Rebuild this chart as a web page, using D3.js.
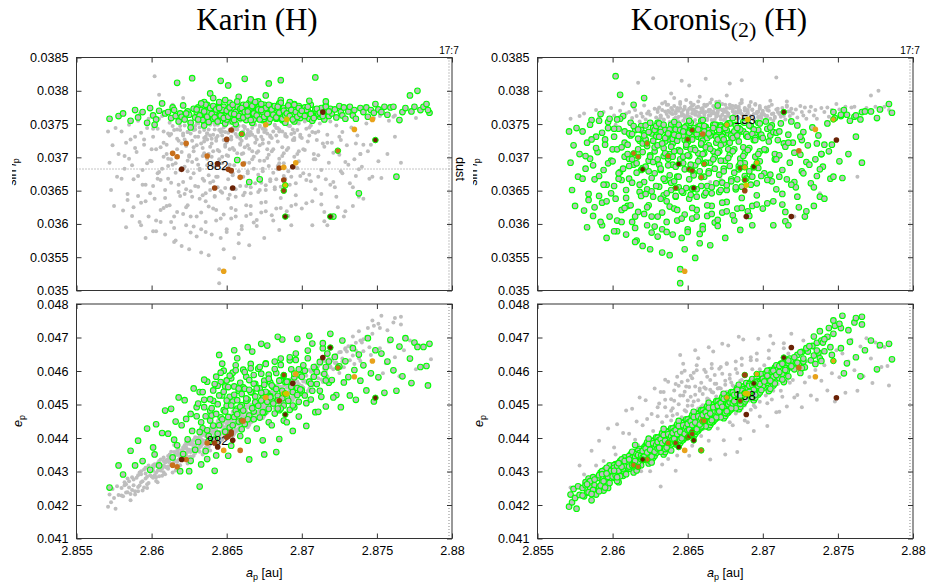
<!DOCTYPE html>
<html>
<head>
<meta charset="utf-8">
<script src="https://cdn.jsdelivr.net/npm/d3@7/dist/d3.min.js"></script>
<style>
  body { margin: 0; background: #fff; }
  svg  { display: block; }
</style>
</head>
<body>
<div id="chart"></div>
<script>
// ############################################################################
// Karin (H) / Koronis(2) (H)  --  proper elements a_p vs sin i_p and e_p
// ############################################################################

// ----------------------------------------------------------------------------
// Data
// ----------------------------------------------------------------------------

const columnTitles = ['Karin', 'Koronis']
const aTicks   = [2.855, 2.86, 2.865, 2.87, 2.875, 2.88]
const sinTicks = [0.035, 0.0355, 0.036, 0.0365, 0.037, 0.0375, 0.038, 0.0385]
const eccTicks = [0.041, 0.042, 0.043, 0.044, 0.045, 0.046, 0.047, 0.048]
const resonance17_7 = 2.8798
const dustSinI = 0.036825

// Karin family members: [a_p, e_p, sin i_p]
const karinMembers = [
  [2.8572,.04252,.03758],[2.8578,.04318,.03762],
  [2.8581,.04291,.03766],[2.8586,.04362,.03755],[2.8589,.04318,.03771],
  [2.8591,.04392,.03760],[2.8594,.04331,.03768],[2.8597,.04428,.03752],[2.8599,.04305,.03774],
  [2.8601,.04372,.03763],[2.8603,.04441,.03757],[2.8605,.04318,.03770],[2.8607,.04415,.03781],[2.8609,.04482,.03766],[2.8602,.04351,.03749],
  [2.8611,.04413,.03768],[2.8613,.04487,.03759],[2.8614,.04342,.03775],[2.8616,.04449,.03762],[2.8617,.04378,.03812],[2.8618,.04521,.03754],[2.8619,.04301,.03766],[2.8615,.04395,.03771],
  [2.8620,.04438,.03761],[2.8621,.04352,.03778],[2.8622,.04513,.03757],[2.8624,.04396,.03769],[2.8625,.04301,.03764],[2.8626,.04472,.03752],[2.8627,.04421,.03819],[2.8628,.04548,.03773],[2.8629,.04365,.03760],[2.8623,.04457,.03766],[2.8626,.04332,.03745],
  [2.8630,.04465,.03768],[2.8631,.04388,.03775],[2.8632,.04537,.03760],[2.8633,.04321,.03771],[2.8634,.04429,.03757],[2.8635,.04492,.03783],[2.8636,.04361,.03765],[2.8637,.04568,.03770],[2.8638,.04406,.03753],[2.8639,.04452,.03796],[2.8632,.04255,.03762],[2.8635,.04514,.03748],[2.8637,.04337,.03779],[2.8639,.04481,.03766],
  [2.8640,.04467,.03771],[2.8641,.04542,.03758],[2.8642,.04395,.03766],[2.8643,.04583,.03774],[2.8644,.04501,.03761],[2.8645,.04438,.03780],[2.8646,.04567,.03767],[2.8647,.04622,.03755],[2.8648,.04483,.03773],[2.8649,.04419,.03762],[2.8641,.04511,.03789],[2.8643,.04348,.03759],[2.8644,.04556,.03770],[2.8646,.04462,.03815],[2.8647,.04527,.03764],[2.8648,.04601,.03776],[2.8649,.04554,.03751],[2.8642,.04302,.03768],
  [2.8650,.04496,.03766],[2.8651,.04552,.03773],[2.8652,.04431,.03760],[2.8653,.04578,.03778],[2.8654,.04509,.03754],[2.8655,.04463,.03769],[2.8656,.04617,.03775],[2.8657,.04488,.03762],[2.8658,.04541,.03791],[2.8659,.04406,.03768],[2.8650,.04572,.03757],[2.8652,.04523,.03782],[2.8653,.04377,.03771],[2.8655,.04554,.03764],[2.8656,.04481,.03750],[2.8657,.04638,.03776],[2.8658,.04449,.03767],[2.8659,.04565,.03759],[2.8651,.04347,.03808],[2.8654,.04595,.03772],[2.8657,.04513,.03696],
  [2.8660,.04498,.03771],[2.8661,.04551,.03764],[2.8662,.04442,.03777],[2.8663,.04583,.03758],[2.8664,.04515,.03769],[2.8665,.04467,.03782],[2.8666,.04621,.03766],[2.8667,.04536,.03752],[2.8668,.04479,.03774],[2.8669,.04562,.03761],[2.8660,.04426,.03768],[2.8661,.04604,.03779],[2.8663,.04511,.03756],[2.8664,.04392,.03771],[2.8665,.04573,.03763],[2.8666,.04537,.03787],[2.8667,.04658,.03769],[2.8668,.04456,.03757],[2.8669,.04524,.03775],[2.8662,.04547,.03818],[2.8665,.04336,.03663],[2.8668,.04588,.03766],
  [2.8670,.04503,.03767],[2.8671,.04549,.03775],[2.8672,.04461,.03761],[2.8673,.04592,.03771],[2.8674,.04518,.03756],[2.8675,.04476,.03779],[2.8676,.04623,.03768],[2.8677,.04534,.03762],[2.8678,.04487,.03774],[2.8679,.04566,.03759],[2.8670,.04428,.03770],[2.8671,.04607,.03784],[2.8673,.04512,.03764],[2.8674,.04393,.03772],[2.8675,.04571,.03758],[2.8676,.04538,.03793],[2.8677,.04676,.03766],[2.8678,.04447,.03753],[2.8679,.04525,.03777],[2.8672,.04548,.03667],[2.8675,.04351,.03769],[2.8678,.04589,.03811],
  [2.8680,.04511,.03769],[2.8681,.04552,.03762],[2.8682,.04473,.03775],[2.8683,.04594,.03758],[2.8684,.04526,.03771],[2.8685,.04483,.03781],[2.8686,.04618,.03765],[2.8687,.04541,.03756],[2.8688,.04497,.03773],[2.8689,.04567,.03764],[2.8680,.04438,.03777],[2.8682,.04606,.03768],[2.8684,.04512,.03759],[2.8685,.04397,.03770],[2.8686,.04573,.03786],[2.8687,.04694,.03763],[2.8688,.04452,.03774],[2.8689,.04529,.03752],[2.8683,.04358,.03767],[2.8686,.04488,.03816],
  [2.8690,.04521,.03768],[2.8691,.04568,.03776],[2.8692,.04484,.03761],[2.8693,.04605,.03772],[2.8694,.04537,.03757],[2.8695,.04492,.03780],[2.8696,.04633,.03766],[2.8697,.04549,.03760],[2.8698,.04508,.03773],[2.8699,.04588,.03763],[2.8690,.04447,.03771],[2.8692,.04632,.03783],[2.8694,.04421,.03765],[2.8695,.04581,.03754],[2.8697,.04696,.03769],[2.8698,.04464,.03777],[2.8699,.04535,.03759],
  [2.8700,.04542,.03767],[2.8702,.04601,.03775],[2.8703,.04504,.03762],[2.8704,.04638,.03770],[2.8705,.04568,.03758],[2.8706,.04515,.03779],[2.8707,.04682,.03766],[2.8708,.04583,.03761],[2.8709,.04477,.03772],[2.8701,.04617,.03764],[2.8703,.04436,.03771],[2.8705,.04705,.03785],[2.8707,.04541,.03755],[2.8709,.04606,.03820],
  [2.8710,.04561,.03768],[2.8712,.04627,.03761],[2.8713,.04523,.03774],[2.8714,.04668,.03766],[2.8715,.04591,.03757],[2.8716,.04494,.03778],[2.8717,.04652,.03769],[2.8718,.04565,.03762],[2.8719,.04711,.03773],[2.8711,.04478,.03765],[2.8716,.04612,.03784],
  [2.8720,.04573,.03766],[2.8722,.04642,.03772],[2.8723,.04528,.03760],[2.8725,.04614,.03777],[2.8726,.04492,.03768],[2.8727,.04691,.03763],[2.8728,.04566,.03775],[2.8729,.04629,.03758],[2.8721,.04521,.03611],
  [2.8731,.04582,.03769],[2.8732,.04527,.03776],[2.8734,.04668,.03763],[2.8735,.04603,.03771],[2.8736,.04514,.03758],[2.8738,.04649,.03646],[2.8739,.04571,.03774],
  [2.8741,.04617,.03768],[2.8743,.04542,.03775],[2.8744,.04698,.03761],[2.8746,.04593,.03771],[2.8748,.04509,.03767],[2.8749,.04662,.03780],
  [2.8751,.04581,.03772],[2.8753,.04652,.03768],[2.8755,.04535,.03776],[2.8757,.04628,.03764],[2.8759,.04693,.03775],
  [2.8761,.04602,.03776],[2.8763,.04541,.03671],[2.8765,.04673,.03756],[2.8767,.04584,.03768],[2.8769,.04698,.03774],
  [2.8772,.04637,.03793],[2.8773,.04564,.03769],[2.8775,.04685,.03776],[2.8777,.04672,.03800],[2.8779,.04612,.03771],
  [2.8781,.04672,.03776],[2.8783,.04615,.03780],[2.8785,.04681,.03767],[2.8784,.04557,.03771],
  [2.8630,.04492,.03772],[2.8632,.04418,.03763],[2.8634,.04537,.03756],[2.8636,.04465,.03779],[2.8638,.04391,.03768],[2.8631,.04503,.03757],[2.8633,.04447,.03781],[2.8635,.04574,.03769],[2.8637,.04423,.03761],[2.8639,.04516,.03774],
  [2.8640,.04489,.03765],[2.8641,.04437,.03777],[2.8642,.04561,.03760],[2.8643,.04472,.03772],[2.8644,.04413,.03754],[2.8645,.04527,.03783],[2.8646,.04595,.03763],[2.8647,.04456,.03771],[2.8648,.04538,.03759],[2.8649,.04479,.03786],[2.8645,.04648,.03774],
  [2.8650,.04512,.03770],[2.8651,.04463,.03761],[2.8652,.04586,.03775],[2.8653,.04497,.03766],[2.8654,.04438,.03779],[2.8655,.04529,.03756],[2.8656,.04602,.03768],[2.8657,.04471,.03784],[2.8658,.04548,.03762],[2.8659,.04493,.03773],[2.8655,.04662,.03765],
  [2.8660,.04531,.03774],[2.8661,.04482,.03760],[2.8662,.04597,.03768],[2.8663,.04518,.03779],[2.8664,.04456,.03763],[2.8665,.04544,.03771],[2.8666,.04608,.03756],[2.8667,.04489,.03777],[2.8668,.04562,.03766],[2.8669,.04507,.03783],[2.8664,.04671,.03769],
  [2.8670,.04548,.03763],[2.8671,.04496,.03772],[2.8672,.04612,.03757],[2.8673,.04535,.03780],[2.8674,.04477,.03768],[2.8675,.04559,.03761],[2.8676,.04621,.03774],[2.8677,.04508,.03765],[2.8678,.04577,.03779],[2.8679,.04522,.03758],[2.8673,.04681,.03771],
  [2.8680,.04557,.03772],[2.8681,.04503,.03764],[2.8682,.04628,.03777],[2.8683,.04546,.03760],[2.8684,.04488,.03773],[2.8685,.04571,.03767],[2.8686,.04637,.03782],[2.8687,.04519,.03758],[2.8688,.04586,.03770],[2.8689,.04532,.03763],[2.8684,.04702,.03776],
  [2.8690,.04568,.03766],[2.8691,.04511,.03778],[2.8692,.04641,.03762],[2.8693,.04553,.03771],[2.8694,.04497,.03757],[2.8695,.04592,.03779],[2.8696,.04652,.03768],[2.8697,.04528,.03761],[2.8698,.04605,.03774],[2.8699,.04545,.03765],
  [2.8700,.04583,.03770],[2.8702,.04527,.03762],[2.8704,.04661,.03776],[2.8706,.04562,.03765],[2.8708,.04612,.03759],[2.8710,.04597,.03773],[2.8712,.04541,.03767],[2.8714,.04683,.03762],[2.8716,.04572,.03776],[2.8718,.04628,.03769]
]

// Koronis(2) family members: [a_p, e_p, sin i_p]
const koronis2Members = [
  [2.8571,.04195,.03739],[2.8572,.04231,.03692],[2.8573,.04208,.03651],[2.8574,.04248,.03718],[2.8575,.04221,.03627],[2.8576,.04189,.03744],[2.8577,.04256,.03671],[2.8578,.04230,.03705],
  [2.8580,.04251,.03739],[2.8581,.04226,.03620],[2.8582,.04268,.03683],[2.8583,.04237,.03722],[2.8584,.04279,.03645],[2.8585,.04252,.03698],[2.8586,.04214,.03756],[2.8587,.04283,.03612],[2.8588,.04259,.03667],[2.8589,.04241,.03731],
  [2.8590,.04281,.03708],[2.8591,.04254,.03642],[2.8592,.04297,.03765],[2.8593,.04268,.03598],[2.8594,.04243,.03681],[2.8595,.04306,.03727],[2.8596,.04279,.03659],[2.8597,.04262,.03744],[2.8598,.04318,.03611],[2.8599,.04289,.03695],[2.8593,.04301,.03632],[2.8597,.04251,.03753],
  [2.8600,.04307,.03712],[2.8601,.04281,.03657],[2.8602,.04322,.03822],[2.8603,.04296,.03589],[2.8604,.04268,.03743],[2.8605,.04331,.03678],[2.8606,.04303,.03621],[2.8607,.04287,.03762],[2.8608,.04342,.03701],[2.8609,.04314,.03639],[2.8601,.04319,.03731],[2.8603,.04272,.03605],[2.8605,.04305,.03794],[2.8606,.04336,.03666],[2.8608,.04298,.03722],[2.8609,.04327,.03584],
  [2.8610,.04334,.03719],[2.8611,.04308,.03668],[2.8612,.04351,.03752],[2.8613,.04322,.03603],[2.8614,.04297,.03689],[2.8615,.04358,.03741],[2.8616,.04331,.03575],[2.8617,.04314,.03712],[2.8618,.04367,.03648],[2.8619,.04341,.03747],[2.8610,.04312,.03627],[2.8611,.04346,.03698],[2.8612,.04327,.03733],[2.8613,.04359,.03662],[2.8614,.04338,.03779],[2.8616,.04303,.03691],[2.8617,.04362,.03618],[2.8618,.04335,.03725],[2.8619,.04319,.03681],[2.8615,.04379,.03594],
  [2.8620,.04361,.03721],[2.8621,.04335,.03663],[2.8622,.04378,.03748],[2.8623,.04349,.03598],[2.8624,.04324,.03695],[2.8625,.04386,.03562],[2.8626,.04358,.03736],[2.8627,.04341,.03641],[2.8628,.04394,.03709],[2.8629,.04368,.03742],[2.8620,.04339,.03684],[2.8621,.04372,.03615],[2.8622,.04354,.03727],[2.8623,.04387,.03652],[2.8624,.04366,.03738],[2.8625,.04331,.03703],[2.8626,.04391,.03587],[2.8627,.04362,.03744],[2.8628,.04347,.03676],[2.8629,.04402,.03731],[2.8621,.04356,.03789],[2.8624,.04398,.03628],[2.8626,.04327,.03669],[2.8628,.04375,.03715],
  [2.8630,.04388,.03718],[2.8631,.04362,.03656],[2.8632,.04405,.03745],[2.8633,.04376,.03592],[2.8634,.04351,.03702],[2.8635,.04413,.03741],[2.8636,.04385,.03634],[2.8637,.04368,.03727],[2.8638,.04421,.03673],[2.8639,.04395,.03749],[2.8630,.04366,.03611],[2.8631,.04399,.03689],[2.8632,.04381,.03738],[2.8633,.04414,.03557],[2.8634,.04393,.03714],[2.8635,.04358,.03665],[2.8636,.04418,.03731],[2.8637,.04389,.03698],[2.8638,.04374,.03626],[2.8639,.04429,.03733],[2.8630,.04401,.03752],[2.8632,.04359,.03681],[2.8634,.04427,.03643],[2.8635,.04384,.03724],[2.8636,.04371,.03588],[2.8637,.04408,.03736],[2.8638,.04392,.03705],[2.8639,.04363,.03662],
  [2.8640,.04415,.03721],[2.8641,.04389,.03664],[2.8642,.04432,.03749],[2.8643,.04403,.03605],[2.8644,.04378,.03711],[2.8645,.04441,.03532],[2.8646,.04412,.03738],[2.8647,.04395,.03647],[2.8648,.04448,.03726],[2.8649,.04422,.03738],[2.8640,.04393,.03689],[2.8641,.04426,.03623],[2.8642,.04408,.03742],[2.8643,.04441,.03671],[2.8644,.04419,.03749],[2.8645,.04385,.03697],[2.8646,.04445,.03579],[2.8647,.04416,.03733],[2.8648,.04401,.03682],[2.8649,.04456,.03747],[2.8640,.04428,.03728],[2.8641,.04397,.03709],[2.8642,.04381,.03641],[2.8643,.04423,.03729],[2.8644,.04451,.03655],[2.8645,.04409,.03511],[2.8646,.04392,.03742],[2.8647,.04437,.03701],[2.8648,.04419,.03614],[2.8649,.04405,.03716],
  [2.8650,.04442,.03723],[2.8651,.04416,.03667],[2.8652,.04459,.03752],[2.8653,.04430,.03608],[2.8654,.04405,.03714],[2.8655,.04468,.03743],[2.8656,.04439,.03641],[2.8657,.04422,.03731],[2.8658,.04475,.03679],[2.8659,.04449,.03755],[2.8650,.04420,.03592],[2.8651,.04453,.03702],[2.8652,.04435,.03741],[2.8653,.04468,.03653],[2.8654,.04446,.03739],[2.8655,.04412,.03688],[2.8656,.04472,.03621],[2.8657,.04443,.03746],[2.8658,.04428,.03697],[2.8659,.04483,.03728],[2.8650,.04455,.03724],[2.8651,.04424,.03638],[2.8652,.04408,.03712],[2.8653,.04450,.03731],[2.8654,.04478,.03676],[2.8655,.04436,.03549],[2.8656,.04419,.03735],[2.8657,.04464,.03706],[2.8658,.04446,.03585],[2.8659,.04432,.03719],
  [2.8660,.04469,.03725],[2.8661,.04443,.03671],[2.8662,.04486,.03746],[2.8663,.04457,.03612],[2.8664,.04432,.03718],[2.8665,.04495,.03736],[2.8666,.04466,.03646],[2.8667,.04449,.03734],[2.8668,.04502,.03683],[2.8669,.04476,.03749],[2.8660,.04447,.03597],[2.8661,.04480,.03706],[2.8662,.04462,.03744],[2.8663,.04495,.03657],[2.8664,.04473,.03741],[2.8665,.04439,.03692],[2.8666,.04499,.03627],[2.8667,.04470,.03749],[2.8668,.04455,.03701],[2.8669,.04510,.03731],[2.8660,.04482,.03756],[2.8661,.04451,.03643],[2.8662,.04435,.03715],[2.8663,.04477,.03733],[2.8664,.04505,.03679],[2.8665,.04463,.03568],[2.8666,.04446,.03738],[2.8667,.04491,.03709],[2.8668,.04473,.03602],[2.8669,.04459,.03722],
  [2.8670,.04496,.03727],[2.8671,.04470,.03674],[2.8672,.04513,.03748],[2.8673,.04484,.03617],[2.8674,.04459,.03721],[2.8675,.04522,.03738],[2.8676,.04493,.03651],[2.8677,.04476,.03736],[2.8678,.04529,.03687],[2.8679,.04503,.03731],[2.8670,.04474,.03606],[2.8671,.04507,.03709],[2.8672,.04489,.03746],[2.8673,.04522,.03662],[2.8674,.04500,.03743],[2.8675,.04466,.03695],[2.8676,.04526,.03633],[2.8677,.04497,.03751],[2.8678,.04482,.03704],[2.8679,.04537,.03733],[2.8670,.04509,.03778],[2.8671,.04478,.03648],[2.8672,.04462,.03718],[2.8674,.04532,.03683],[2.8675,.04490,.03579],[2.8676,.04473,.03741],[2.8677,.04518,.03712],[2.8679,.04486,.03667],
  [2.8680,.04523,.03729],[2.8681,.04497,.03677],[2.8682,.04540,.03749],[2.8683,.04511,.03623],[2.8684,.04486,.03724],[2.8685,.04549,.03739],[2.8686,.04520,.03656],[2.8687,.04503,.03739],[2.8688,.04556,.03691],[2.8689,.04530,.03732],[2.8680,.04501,.03613],[2.8681,.04534,.03712],[2.8682,.04516,.03748],[2.8683,.04549,.03667],[2.8684,.04527,.03744],[2.8685,.04493,.03698],[2.8686,.04553,.03639],[2.8687,.04524,.03753],[2.8688,.04509,.03706],[2.8689,.04564,.03735],[2.8680,.04536,.03759],[2.8682,.04489,.03652],[2.8684,.04559,.03687],[2.8685,.04517,.03591],[2.8687,.04545,.03715],[2.8688,.04532,.03672],
  [2.8690,.04550,.03731],[2.8691,.04524,.03679],[2.8692,.04567,.03747],[2.8693,.04538,.03627],[2.8694,.04513,.03726],[2.8695,.04576,.03737],[2.8696,.04547,.03661],[2.8697,.04530,.03741],[2.8698,.04583,.03694],[2.8699,.04557,.03731],[2.8690,.04528,.03619],[2.8691,.04561,.03714],[2.8692,.04543,.03747],[2.8693,.04576,.03671],[2.8694,.04554,.03742],[2.8695,.04520,.03701],[2.8696,.04580,.03643],[2.8697,.04551,.03752],[2.8698,.04536,.03709],[2.8699,.04591,.03734],[2.8693,.04521,.03598],[2.8697,.04569,.03684],
  [2.8700,.04577,.03729],[2.8701,.04551,.03676],[2.8702,.04594,.03754],[2.8703,.04565,.03631],[2.8704,.04540,.03724],[2.8705,.04603,.03733],[2.8706,.04574,.03664],[2.8707,.04557,.03738],[2.8708,.04610,.03697],[2.8709,.04584,.03737],[2.8700,.04555,.03623],[2.8702,.04571,.03711],[2.8703,.04601,.03743],[2.8705,.04547,.03674],[2.8706,.04598,.03748],[2.8707,.04582,.03598],[2.8708,.04563,.03705],[2.8709,.04617,.03652],
  [2.8710,.04604,.03726],[2.8711,.04578,.03671],[2.8712,.04621,.03751],[2.8713,.04592,.03629],[2.8714,.04567,.03721],[2.8715,.04630,.03604],[2.8716,.04601,.03667],[2.8717,.04584,.03734],[2.8718,.04637,.03692],[2.8719,.04611,.03754],[2.8711,.04615,.03703],[2.8713,.04575,.03645],[2.8715,.04608,.03716],[2.8717,.04624,.03598],
  [2.8720,.04631,.03722],[2.8721,.04605,.03663],[2.8723,.04648,.03748],[2.8724,.04619,.03625],[2.8725,.04594,.03704],[2.8726,.04657,.03679],[2.8727,.04628,.03738],[2.8728,.04611,.03611],[2.8729,.04664,.03693],[2.8722,.04624,.03655],[2.8726,.04609,.03726],
  [2.8730,.04658,.03718],[2.8732,.04632,.03661],[2.8733,.04675,.03745],[2.8734,.04646,.03627],[2.8735,.04621,.03697],[2.8736,.04684,.03672],[2.8737,.04655,.03733],[2.8738,.04638,.03641],[2.8739,.04691,.03705],
  [2.8740,.04685,.03686],[2.8741,.04659,.03719],[2.8743,.04702,.03751],[2.8745,.04671,.03668],[2.8746,.04648,.03719],[2.8747,.04711,.03768],[2.8739,.04630,.03705],[2.8748,.04735,.03759],
  [2.8752,.04668,.03762],[2.8756,.04623,.03764],[2.8758,.04687,.03755],[2.8754,.04593,.03771],[2.8752,.04728,.03764],
  [2.8761,.04745,.03761],[2.8762,.04641,.03763],[2.8765,.04584,.03757],[2.8766,.04762,.03768],[2.8768,.04662,.03769],
  [2.8772,.04691,.03769],[2.8776,.04605,.03759],[2.8778,.04677,.03772],
  [2.8784,.04681,.03780],[2.8786,.04635,.03767],
  [2.8580,.04228,.03668],[2.8582,.04259,.03702],[2.8584,.04238,.03636],[2.8585,.04271,.03749],[2.8587,.04245,.03688],[2.8588,.04276,.03625],[2.8589,.04231,.03714],[2.8591,.04289,.03672],[2.8592,.04258,.03603],[2.8593,.04292,.03737],
  [2.8594,.04271,.03659],[2.8595,.04252,.03719],[2.8596,.04311,.03634],[2.8597,.04284,.03691],[2.8598,.04266,.03758],[2.8599,.04302,.03646],[2.8583,.04262,.03595],[2.8586,.04233,.03727],[2.8591,.04241,.03755],[2.8596,.04294,.03579],
  [2.8600,.04285,.03694],[2.8601,.04311,.03743],[2.8602,.04289,.03638],[2.8603,.04317,.03712],[2.8604,.04302,.03668],[2.8605,.04286,.03758],[2.8606,.04321,.03603],[2.8607,.04309,.03683],[2.8608,.04318,.03739],[2.8609,.04292,.03651],
  [2.8610,.04329,.03705],[2.8611,.04315,.03736],[2.8612,.04337,.03628],[2.8613,.04341,.03697],[2.8614,.04316,.03747],[2.8615,.04344,.03611],[2.8616,.04352,.03677],[2.8617,.04328,.03728],[2.8618,.04355,.03659],[2.8619,.04337,.03741],
  [2.8601,.04302,.03589],[2.8603,.04283,.03757],[2.8606,.04314,.03715],[2.8608,.04331,.03624],[2.8611,.04336,.03687],[2.8613,.04319,.03735],[2.8615,.04331,.03573],[2.8617,.04349,.03742],[2.8619,.04348,.03642],[2.8604,.04325,.03676],
  [2.8620,.04342,.03708],[2.8621,.04367,.03736],[2.8622,.04341,.03645],[2.8623,.04372,.03717],[2.8624,.04358,.03679],[2.8625,.04343,.03752],[2.8626,.04381,.03611],[2.8627,.04366,.03693],[2.8628,.04374,.03741],[2.8629,.04355,.03657],
  [2.8620,.04361,.03567],[2.8621,.04344,.03733],[2.8622,.04369,.03686],[2.8623,.04357,.03625],[2.8624,.04382,.03738],[2.8625,.04365,.03701],[2.8626,.04345,.03649],[2.8627,.04384,.03725],[2.8628,.04359,.03596],[2.8629,.04379,.03747],
  [2.8630,.04369,.03697],[2.8631,.04394,.03751],[2.8632,.04371,.03638],[2.8633,.04397,.03721],[2.8634,.04382,.03668],[2.8635,.04367,.03729],[2.8636,.04406,.03603],[2.8637,.04393,.03688],[2.8638,.04399,.03742],[2.8639,.04381,.03651],
  [2.8630,.04388,.03581],[2.8631,.04371,.03731],[2.8632,.04396,.03683],[2.8633,.04385,.03617],[2.8634,.04409,.03749],[2.8635,.04392,.03706],[2.8636,.04372,.03646],[2.8637,.04411,.03736],[2.8638,.04386,.03553],[2.8639,.04405,.03716],
  [2.8640,.04396,.03701],[2.8641,.04421,.03753],[2.8642,.04398,.03642],[2.8643,.04424,.03725],[2.8644,.04409,.03671],[2.8645,.04394,.03741],[2.8646,.04433,.03608],[2.8647,.04420,.03691],[2.8648,.04426,.03745],[2.8649,.04408,.03654],
  [2.8640,.04415,.03584],[2.8641,.04398,.03734],[2.8642,.04423,.03686],[2.8643,.04412,.03621],[2.8644,.04436,.03732],[2.8645,.04419,.03709],[2.8646,.04399,.03649],[2.8647,.04438,.03739],[2.8648,.04413,.03562],[2.8649,.04432,.03719],
  [2.8650,.04423,.03703],[2.8651,.04448,.03755],[2.8652,.04425,.03644],[2.8653,.04451,.03727],[2.8654,.04436,.03673],[2.8655,.04421,.03742],[2.8656,.04460,.03611],[2.8657,.04447,.03694],[2.8658,.04453,.03747],[2.8659,.04435,.03657],
  [2.8650,.04442,.03588],[2.8651,.04425,.03737],[2.8652,.04450,.03689],[2.8653,.04439,.03624],[2.8654,.04463,.03744],[2.8655,.04446,.03711],[2.8656,.04426,.03652],[2.8657,.04465,.03742],[2.8658,.04440,.03571],[2.8659,.04459,.03721],
  [2.8660,.04450,.03705],[2.8661,.04475,.03747],[2.8662,.04452,.03647],[2.8663,.04478,.03729],[2.8664,.04463,.03676],[2.8665,.04448,.03733],[2.8666,.04487,.03615],[2.8667,.04474,.03697],[2.8668,.04480,.03749],[2.8669,.04462,.03661],
  [2.8660,.04469,.03592],[2.8661,.04452,.03739],[2.8662,.04477,.03692],[2.8663,.04466,.03628],[2.8664,.04490,.03736],[2.8665,.04473,.03713],[2.8666,.04453,.03655],[2.8667,.04492,.03744],
  [2.8670,.04477,.03707],[2.8671,.04502,.03738],[2.8672,.04479,.03651],[2.8673,.04505,.03731],[2.8674,.04490,.03679],[2.8675,.04475,.03744],[2.8676,.04514,.03619],[2.8677,.04501,.03699],[2.8678,.04507,.03751],[2.8679,.04489,.03664],
  [2.8670,.04496,.03597],[2.8671,.04479,.03741],[2.8672,.04504,.03695],[2.8673,.04493,.03632],[2.8674,.04517,.03727],[2.8676,.04480,.03658],[2.8678,.04519,.03722],
  [2.8680,.04504,.03709],[2.8681,.04529,.03739],[2.8682,.04506,.03655],[2.8683,.04532,.03733],[2.8684,.04517,.03682],[2.8685,.04502,.03742],[2.8686,.04541,.03624],[2.8687,.04528,.03702],[2.8688,.04534,.03752],[2.8689,.04516,.03668],
  [2.8681,.04510,.03605],[2.8683,.04544,.03744],[2.8685,.04526,.03691],
  [2.8690,.04531,.03711],[2.8691,.04556,.03748],[2.8692,.04533,.03659],[2.8693,.04559,.03735],[2.8694,.04544,.03685],[2.8695,.04529,.03729],[2.8696,.04568,.03629],[2.8697,.04555,.03705],[2.8698,.04561,.03751],[2.8699,.04543,.03672],
  [2.8691,.04537,.03612],[2.8695,.04566,.03726],
  [2.8701,.04569,.03712],[2.8703,.04586,.03666],[2.8705,.04571,.03745],[2.8707,.04601,.03634],[2.8709,.04588,.03697],[2.8711,.04597,.03739],[2.8713,.04622,.03681],[2.8715,.04603,.03618],[2.8717,.04631,.03722],[2.8719,.04614,.03659],
  [2.8721,.04641,.03707],[2.8723,.04625,.03641],[2.8725,.04656,.03731],[2.8727,.04637,.03676],[2.8729,.04668,.03619],
  [2.8731,.04674,.03689],[2.8734,.04703,.03655],[2.8736,.04661,.03721],[2.8738,.04719,.03682],[2.8741,.04695,.03638],[2.8744,.04728,.03709],
  [2.8747,.04751,.03671],[2.8751,.04741,.03694],[2.8753,.04765,.03669],[2.8757,.04722,.03705],[2.8762,.04758,.03731],[2.8766,.04739,.03692]
]

// Highlighted asteroids: [a_p, e_p, sin i_p, colour class, family]
const highlighted = [
  [2.8676,.04521,.03749,1,'C'],[2.8653,.04418,.03741,3,'C'],[2.8650,.04402,.03727,3,'C'],
  [2.8660,.04452,.03735,2,'K'],[2.8623,.04336,.03721,2,'C'],[2.8614,.04319,.03706,2,'C'],
  [2.8617,.04314,.03701,2,'C'],[2.8637,.04385,.03702,2,'C'],[2.8620,.04336,.03682,4,'C'],
  [2.8651,.04405,.03682,3,'C'],[2.8653,.04412,.03680,3,'C'],[2.8661,.04451,.03690,2,'C'],
  [2.8659,.04363,.03670,2,'C'],[2.8642,.04385,.03654,3,'C'],[2.8654,.04393,.03654,4,'C'],
  [2.8685,.04511,.03684,3,'C'],[2.8688,.04533,.03685,1,'C'],[2.8694,.04563,.03686,4,'C'],
  [2.8696,.04591,.03692,1,'C'],[2.8688,.04588,.03666,3,'C'],[2.8689,.04533,.03658,0,'K'],
  [2.8688,.04588,.03650,3,'K'],[2.8689,.04470,.03611,4,'K'],[2.8719,.04670,.03611,4,'K'],
  [2.8724,.04610,.03710,2,'K'],[2.8735,.04583,.03742,1,''],[2.8749,.04520,.03726,4,'K'],
  [2.8648,.04363,.03529,1,''],[2.8747,.04630,.03757,1,'C'],[2.8714,.04640,.03768,4,'C'],
  [2.8644,.04373,.03690,4,'C'],[2.8690,.04532,.03757,0,'']
]
const highlightColors = ['#d8c000', '#e8a21a', '#c8701c', '#9a4410', '#6a2206']

// Object labels: [text, a_p, e_p, sin i_p]
const objectLabels = [
  ['882', 2.8644, .04392, .03688],
  ['158', 2.8688, .04528, .03757]
]


// ############################################################################
// Chart
// ############################################################################

class FamilyChart
{
  constructor(parentId)
  {
    this._width  = 929
    this._height = 583
    this._font   = '"Liberation Sans", Arial, Helvetica, sans-serif'
    this._serif  = '"Liberation Serif", "Times New Roman", serif'

    // Plot frames (left edge of each column, common width, row extents)
    this._colLeft   = [76.5, 537.5]
    this._plotWidth = 375.5
    this._rows = {
      sin : { top: 57.5, bottom: 290.5, domain: [0.035, 0.0385], ticks: sinTicks, col: 2 },
      ecc : { top: 304,  bottom: 538.5, domain: [0.041, 0.048],  ticks: eccTicks, col: 1 }
    }

    this._color = d3.scaleOrdinal().domain([0, 1, 2, 3, 4]).range(highlightColors)

    this._setupContainer(parentId)
    for (let c = 0; c < 2; c++)
    {
      this._drawColumnHeader(c)
      this._drawPanel(c, 'sin')
      this._drawPanel(c, 'ecc')
    }
  }

  // ==========================================================================
  // Setup svg canvas
  // ==========================================================================

  _setupContainer(parentId)
  {
    this._svg = d3.select('#' + parentId)
      .append('svg')
      .attr('width',  this._width)
      .attr('height', this._height)
      .style('font-family', this._font)
      .style('background-color', '#fff')

    let defs = this._svg.append('defs')
    // y labels are cut at the left border of each original sub-picture
    defs.append('clipPath').attr('id', 'clip-col-0')
      .append('rect').attr('x', 12).attr('y', 0).attr('width', 455).attr('height', this._height)
    defs.append('clipPath').attr('id', 'clip-col-1')
      .append('rect').attr('x', 473).attr('y', 0).attr('width', 456).attr('height', this._height)
  }

  // ==========================================================================
  // Title, x label, y labels
  // ==========================================================================

  _drawColumnHeader(c)
  {
    let x0 = this._colLeft[c]
    let off = x0 - this._colLeft[0]

    // Title
    let title = this._svg.append('text')
      .attr('x', c == 0 ? 257 : 719)
      .attr('y', 30)
      .attr('text-anchor', 'middle')
      .style('font-family', this._serif)
      .style('font-size', '31px')
    title.append('tspan').text(columnTitles[c])
    if (c == 1)
    {
      title.append('tspan').attr('dy', 7).style('font-size', '22px').text('(2)')
      title.append('tspan').attr('dy', -7).text(' (H)')
    }
    else
      title.append('tspan').text(' (H)')

    // x label
    let xl = this._svg.append('text')
      .attr('x', x0 + this._plotWidth / 2)
      .attr('y', 577)
      .attr('text-anchor', 'middle')
      .style('font-size', '12.6px')
    xl.append('tspan').style('font-style', 'italic').text('a')
    xl.append('tspan').attr('dy', 3).style('font-size', '9px').text('p')
    xl.append('tspan').attr('dy', -3).text(' [au]')

    // y labels (rotated)
    let clip = this._svg.append('g').attr('clip-path', 'url(#clip-col-' + c + ')')
    let sl = clip.append('text')
      .attr('transform', 'translate(' + (16 + off) + ',172) rotate(-90)')
      .attr('text-anchor', 'middle')
      .style('font-size', '12.6px')
    sl.append('tspan').text('sin ')
    sl.append('tspan').style('font-style', 'italic').text('i')
    sl.append('tspan').attr('dy', 3).style('font-size', '9px').text('p')

    let el = clip.append('text')
      .attr('transform', 'translate(' + (22 + off) + ',421) rotate(-90)')
      .attr('text-anchor', 'middle')
      .style('font-size', '12.6px')
    el.append('tspan').style('font-style', 'italic').text('e')
    el.append('tspan').attr('dy', 3).style('font-size', '9px').text('p')
  }

  // ==========================================================================
  // One scatter panel
  // ==========================================================================

  _drawPanel(c, rowName)
  {
    let row = this._rows[rowName]
    let x0 = this._colLeft[c]
    let x1 = x0 + this._plotWidth
    let greenFam = c == 0 ? 'K' : 'C'
    let greenSet = c == 0 ? karinMembers : koronis2Members
    let graySet  = c == 0 ? koronis2Members : karinMembers
    let col = row.col

    let x = d3.scaleLinear().domain([2.855, 2.88]).range([x0, x1])
    let y = d3.scaleLinear().domain(row.domain).range([row.bottom, row.top])

    let g = this._svg.append('g')

    // Reference lines (dotted)
    g.append('line')
      .attr('x1', x(resonance17_7)).attr('x2', x(resonance17_7))
      .attr('y1', row.top).attr('y2', row.bottom)
      .attr('stroke', '#888').attr('stroke-width', 1).attr('stroke-dasharray', '1,2')

    if (rowName == 'sin')
    {
      g.append('text')
        .attr('x', x(resonance17_7)).attr('y', row.top - 4)
        .attr('text-anchor', 'middle')
        .style('font-size', '10px')
        .text('17:7')
    }

    if (rowName == 'sin' && c == 0)
    {
      g.append('line')
        .attr('x1', x0).attr('x2', x1)
        .attr('y1', y(dustSinI)).attr('y2', y(dustSinI))
        .attr('stroke', '#888').attr('stroke-width', 1).attr('stroke-dasharray', '1,2')
      g.append('text')
        .attr('transform', 'translate(' + (x1 + 4) + ',' + y(dustSinI) + ') rotate(90)')
        .attr('text-anchor', 'middle')
        .style('font-size', '12.6px')
        .text('dust')
    }

    // Background family (gray)
    g.append('g').selectAll('circle')
      .data(graySet)
      .join('circle')
      .attr('cx', d => x(d[0]))
      .attr('cy', d => y(d[col]))
      .attr('r', 2)
      .attr('fill', '#bebebe')

    // Selected family (green rings)
    g.append('g').selectAll('circle')
      .data(greenSet)
      .join('circle')
      .attr('cx', d => x(d[0]))
      .attr('cy', d => y(d[col]))
      .attr('r', 2.8)
      .attr('fill', '#bebebe')
      .attr('stroke', '#00ff00')
      .attr('stroke-width', 1.1)

    // Object label
    let lab = objectLabels[c]
    g.append('text')
      .attr('x', x(lab[1]))
      .attr('y', y(lab[rowName == 'sin' ? 3 : 2]))
      .attr('dy', '0.35em')
      .attr('text-anchor', 'middle')
      .style('font-size', '13px')
      .attr('fill', '#000')
      .text(lab[0])

    // Highlighted objects
    g.append('g').selectAll('circle')
      .data(highlighted)
      .join('circle')
      .attr('cx', d => x(d[0]))
      .attr('cy', d => y(d[col]))
      .attr('r', 2.8)
      .attr('fill', d => this._color(d[3]))
      .attr('stroke', d => d[4] == greenFam ? '#00ff00' : 'none')
      .attr('stroke-width', 1)

    // Frame
    g.append('rect')
      .attr('x', x0).attr('y', row.top)
      .attr('width', this._plotWidth).attr('height', row.bottom - row.top)
      .attr('fill', 'none')
      .attr('stroke', '#333')
      .attr('stroke-width', 1)

    // Axes (ticks inside, mirrored)
    let fmt = d => String(+d.toFixed(4))
    let style = sel => {
      sel.select('.domain').remove()
      sel.selectAll('line').attr('stroke', '#333')
      sel.selectAll('text').style('font-size', '12.6px').style('font-family', this._font).attr('fill', '#000')
    }

    g.append('g').attr('transform', 'translate(' + x0 + ',0)')
      .call(d3.axisLeft(y).tickValues(row.ticks).tickSizeInner(-5).tickSizeOuter(0).tickPadding(8).tickFormat(fmt))
      .call(style)
    g.append('g').attr('transform', 'translate(' + x1 + ',0)')
      .call(d3.axisRight(y).tickValues(row.ticks).tickSizeInner(-5).tickSizeOuter(0).tickFormat(''))
      .call(style)
    g.append('g').attr('transform', 'translate(0,' + row.top + ')')
      .call(d3.axisTop(x).tickValues(aTicks).tickSizeInner(-5).tickSizeOuter(0).tickFormat(''))
      .call(style)
    g.append('g').attr('transform', 'translate(0,' + row.bottom + ')')
      .call(d3.axisBottom(x).tickValues(aTicks).tickSizeInner(-5).tickSizeOuter(0).tickPadding(8)
        .tickFormat(rowName == 'ecc' ? fmt : ''))
      .call(style)
  }
}

new FamilyChart('chart')
</script>
</body>
</html>
